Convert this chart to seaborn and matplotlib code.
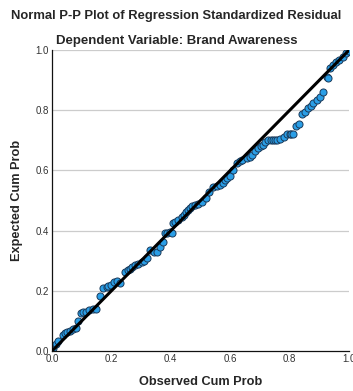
import matplotlib
matplotlib.use("Agg")
import matplotlib.pyplot as plt
import seaborn as sns
import pandas as pd

# observed vs expected cumulative probabilities
observed = [0.003, 0.015, 0.02, 0.037, 0.045, 0.05, 0.06, 0.07, 0.08, 0.088,
            0.097, 0.105, 0.115, 0.125, 0.138, 0.15, 0.162, 0.172, 0.185, 0.19,
            0.2, 0.21, 0.22, 0.23, 0.246, 0.256, 0.263, 0.27, 0.28, 0.29,
            0.303, 0.31, 0.32, 0.33, 0.343, 0.354, 0.364, 0.374, 0.38, 0.387,
            0.397, 0.404, 0.407, 0.415, 0.424, 0.438, 0.445, 0.451, 0.458, 0.465,
            0.471, 0.481, 0.49, 0.505, 0.519, 0.53, 0.542, 0.555, 0.566, 0.575,
            0.582, 0.59, 0.599, 0.61, 0.623, 0.632, 0.64, 0.657, 0.665, 0.673,
            0.685, 0.694, 0.703, 0.71, 0.718, 0.727, 0.736, 0.744, 0.75, 0.757,
            0.768, 0.781, 0.791, 0.8, 0.805, 0.811, 0.822, 0.832, 0.842, 0.852,
            0.862, 0.872, 0.879, 0.892, 0.902, 0.912, 0.926, 0.929, 0.936, 0.946,
            0.956, 0.966, 0.98, 0.99, 1.0]
expected = [0.01, 0.025, 0.035, 0.055, 0.06, 0.063, 0.066, 0.073, 0.076, 0.1,
            0.127, 0.13, 0.13, 0.136, 0.14, 0.14, 0.183, 0.209, 0.213, 0.216,
            0.22, 0.23, 0.233, 0.226, 0.262, 0.268, 0.272, 0.278, 0.286, 0.29,
            0.296, 0.3, 0.309, 0.335, 0.33, 0.329, 0.345, 0.362, 0.392, 0.392,
            0.395, 0.392, 0.425, 0.43, 0.435, 0.445, 0.452, 0.462, 0.468, 0.475,
            0.482, 0.485, 0.49, 0.495, 0.508, 0.53, 0.545, 0.548, 0.551, 0.56,
            0.568, 0.575, 0.581, 0.6, 0.625, 0.63, 0.635, 0.641, 0.645, 0.651,
            0.665, 0.674, 0.68, 0.684, 0.695, 0.7, 0.7, 0.7, 0.7, 0.7,
            0.704, 0.711, 0.721, 0.721, 0.721, 0.721, 0.748, 0.754, 0.787, 0.794,
            0.807, 0.814, 0.824, 0.834, 0.844, 0.86, 0.91, 0.907, 0.94, 0.95,
            0.96, 0.967, 0.977, 0.99, 0.997]
diag = [0, 1]
ticks = [0.0, 0.2, 0.4, 0.6, 0.8, 1.0]
xtick_labels = ["0.0", "0.2", "0.4", "0.6", "0.8", "1.0"]
ytick_labels = ["0.0", "0.2", "0.4", "0.6", "0.8", "1.0"]

df = pd.DataFrame({"observed": observed, "expected": expected})

sns.set_style("white")
plt.rcParams["font.family"] = ["Liberation Sans", "DejaVu Sans"]

fig = plt.figure(figsize=(3.53, 3.91), dpi=100)
ax = fig.add_axes([0.147, 0.102, 0.842, 0.770])

for t in ticks[1:]:
    ax.axhline(t, color="#cccccc", lw=0.9, zorder=0)

sns.scatterplot(data=df, x="observed", y="expected", ax=ax, s=26,
                color="#2a9ee6", edgecolor="#1a3a5a", linewidth=0.7, zorder=2)
sns.lineplot(x=diag, y=diag, color="black", lw=2.2, ax=ax, zorder=3)

ax.set_xlim(0, 1)
ax.set_ylim(0, 1)
ax.set_xticks(ticks)
ax.set_xticklabels(xtick_labels)
ax.set_yticks(ticks)
ax.set_yticklabels(ytick_labels)
ax.tick_params(length=0, labelsize=7, labelcolor="#333333", pad=2)

for s in ["top", "right"]:
    ax.spines[s].set_visible(False)
for s in ["left", "bottom"]:
    ax.spines[s].set_color("#111111")
    ax.spines[s].set_linewidth(0.9)

ax.set_xlabel("Observed Cum Prob", fontsize=9.2, fontweight="bold", labelpad=9)
ax.set_ylabel("Expected Cum Prob", fontsize=9.2, fontweight="bold", labelpad=9)

fig.text(0.5, 0.960, "Normal P-P Plot of Regression Standardized Residual",
         ha="center", va="center", fontsize=9.4, fontweight="bold")
fig.text(0.5, 0.896, "Dependent Variable: Brand Awareness",
         ha="center", va="center", fontsize=9.5, fontweight="bold")

fig.savefig("out.png", dpi=100)
